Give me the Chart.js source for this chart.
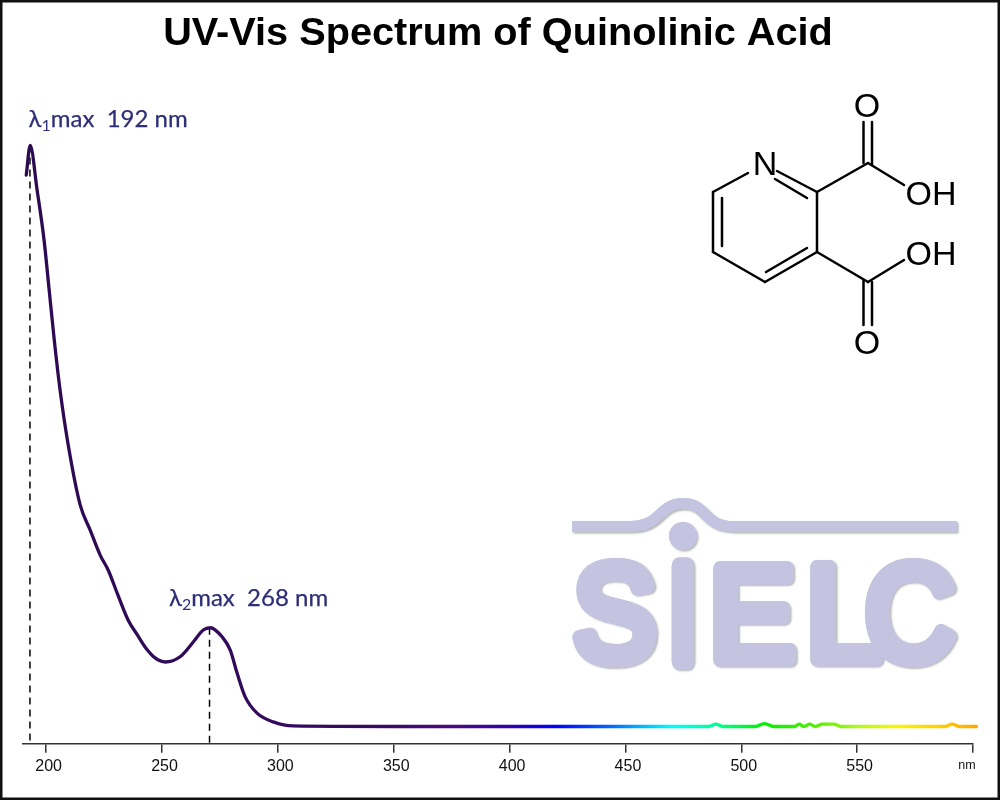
<!DOCTYPE html>
<html>
<head>
<meta charset="utf-8">
<title>UV-Vis Spectrum of Quinolinic Acid</title>
<script src="https://cdn.jsdelivr.net/npm/chart.js@4"></script>
<style>
  html, body { margin: 0; padding: 0; background: #fff; }
  #wrap { width: 1000px; height: 800px; position: relative; overflow: hidden; }
</style>
</head>
<body>
<div id="wrap"><canvas id="chart" width="1000" height="800"></canvas></div>
<script>
const titleText = 'UV-Vis Spectrum of Quinolinic Acid';

// spectrum, value = % of the 192 nm peak
const wavelengths = [191.4, 193.1, 196.1, 199.1, 201.3, 203.5, 206, 209.5, 214.7, 219, 223.3, 226.8, 230.6, 235.4,
  239.3, 243.6, 247, 251.4, 257.8, 263.4, 267.8, 270.8, 276, 279.4, 282.4, 285.9, 291, 298, 306.6,
  350, 400, 450, 486, 489, 492, 506, 510, 514, 523, 525, 527, 529.5, 532, 535, 540, 543, 560, 588, 591, 594, 601.5];
const absorbance = [94.9, 100, 92.3, 83.7, 75.1, 66.5, 57.9, 48.5, 38.1, 33.8, 29.5, 26.9, 23, 18.3,
  15.8, 13.2, 11.8, 11.1, 12, 14.5, 16.6, 17, 15.4, 13.2, 9.2, 5.1, 2.3, 0.8, 0.1,
  0, 0, 0, 0, 0.4, 0, 0, 0.5, 0, 0, 0.4, 0, 0.4, 0, 0.4, 0.4, 0, 0, 0, 0.4, 0, 0];

// line colour along the wavelength axis
const colorNm = [190, 340, 375, 400, 420, 445, 470, 490, 510, 535, 550, 567, 585, 601.5];
const colorHex = ['#2c0a52', '#360a62', '#4a0a80', '#3300b0', '#0000ff', '#0070ff', '#00ffff', '#00ff90',
  '#00f000', '#60f000', '#b0f820', '#f8f800', '#ffd000', '#ffa800'];

// dashed drop lines
const dropNm = [193, 270.5];
const dropTop = [100, 17];

const peakLabels = ['1', '2'];
const peakNames = ['192 nm', '268 nm'];

const xTicks = [200, 250, 300, 350, 400, 450, 500, 550, 600];

const AREA_TOP = 60;
const PX_PER_UNIT = 5.81;
const Y_MIN = -2.96;
const Y_MAX = (726.5 - AREA_TOP) / PX_PER_UNIT;

const spectrum = wavelengths.map((nm, i) => ({ x: nm, y: absorbance[i] }));

function spectrumGradient(context) {
  const chart = context.chart;
  const x = chart.scales.x;
  if (!x) return colorHex[0];
  const from = x.getPixelForValue(colorNm[0]);
  const to = x.getPixelForValue(colorNm[colorNm.length - 1]);
  if (!isFinite(from) || !isFinite(to)) return colorHex[0];
  const g = chart.ctx.createLinearGradient(from, 0, to, 0);
  colorNm.forEach((nm, i) => {
    g.addColorStop((nm - colorNm[0]) / (colorNm[colorNm.length - 1] - colorNm[0]), colorHex[i]);
  });
  return g;
}

// logo letter squeezed into a box, round stroke gives the soft ends
function logoLetter(ctx, ch, left, top, right, bottom, sw) {
  ctx.save();
  ctx.font = '140px "Liberation Sans"';
  ctx.textAlign = 'left';
  ctx.textBaseline = 'alphabetic';
  const m = ctx.measureText(ch);
  const w = m.actualBoundingBoxRight + m.actualBoundingBoxLeft;
  const h = m.actualBoundingBoxAscent + m.actualBoundingBoxDescent;
  const sx = (right - left - sw) / w;
  const sy = (bottom - top - sw) / h;
  ctx.translate(left + sw / 2 + m.actualBoundingBoxLeft * sx, bottom - sw / 2 - m.actualBoundingBoxDescent * sy);
  ctx.scale(sx, sy);
  ctx.lineJoin = 'round';
  ctx.lineWidth = sw / Math.min(sx, sy);
  ctx.strokeStyle = '#c4c4e0';
  ctx.fillStyle = '#c4c4e0';
  ctx.strokeText(ch, 0, 0);
  ctx.fillText(ch, 0, 0);
  ctx.restore();
}

function logoShapes(ctx) {
  ctx.strokeStyle = '#c4c4e0';
  ctx.lineWidth = 11;
  ctx.beginPath();
  ctx.moveTo(572, 526.5);
  ctx.lineTo(630, 526.5);
  ctx.bezierCurveTo(662, 526.5, 658, 503.5, 683, 503.5);
  ctx.bezierCurveTo(708, 503.5, 702, 526.5, 734, 526.5);
  ctx.lineTo(957, 526.5);
  ctx.stroke();
  ctx.fillStyle = '#c4c4e0';
  ctx.beginPath();
  ctx.arc(683, 536, 14, 0, Math.PI * 2);
  ctx.fill();
  logoLetter(ctx, 'S', 572, 558, 657, 667, 13);
  logoLetter(ctx, 'I', 671, 560, 694, 667, 13);
  logoLetter(ctx, 'E', 713, 561, 797, 666, 13);
  logoLetter(ctx, 'L', 810, 560, 884, 666, 13);
  logoLetter(ctx, 'C', 865, 558, 957, 667, 13);
}

function drawLogo(ctx) {
  // shadow pass first, then a clean pass on top so the shadow stays outside
  ctx.save();
  ctx.shadowColor = 'rgba(90,90,90,0.45)';
  ctx.shadowBlur = 2;
  ctx.shadowOffsetX = 1.5;
  ctx.shadowOffsetY = 1.5;
  logoShapes(ctx);
  ctx.restore();
  ctx.save();
  logoShapes(ctx);
  ctx.restore();
}

function drawMolecule(ctx) {
  const bonds = [
    [748, 173, 713, 192], [713, 192, 713, 252], [722, 198, 722, 246], [713, 252, 765, 282],
    [765, 282, 817, 252], [766, 272, 807, 248], [817, 252, 817, 192], [817, 192, 777, 171],
    [807, 198, 775, 179], [817, 192, 868, 163], [868, 163, 904, 185], [863.5, 163, 863.5, 122],
    [872, 165, 872, 122], [817, 252, 868, 282], [868, 282, 904, 260], [863.5, 280, 863.5, 325],
    [872, 282, 872, 325]
  ];
  ctx.save();
  ctx.strokeStyle = '#000';
  ctx.lineWidth = 2.5;
  ctx.lineCap = 'round';
  bonds.forEach(b => {
    ctx.beginPath();
    ctx.moveTo(b[0], b[1]);
    ctx.lineTo(b[2], b[3]);
    ctx.stroke();
  });
  ctx.fillStyle = '#000';
  ctx.font = '34px "Liberation Sans"';
  ctx.textAlign = 'center';
  ctx.textBaseline = 'middle';
  ctx.fillText('N', 765, 166);
  ctx.fillText('O', 867, 108);
  ctx.fillText('O', 867, 345);
  ctx.fillText('OH', 931, 196);
  ctx.fillText('OH', 931, 256);
  ctx.restore();
}

function drawPeakLabel(ctx, sub, name, x, y) {
  ctx.save();
  ctx.fillStyle = '#2e2e78';
  ctx.strokeStyle = '#2e2e78';
  ctx.lineWidth = 0.25;
  ctx.textAlign = 'left';
  ctx.textBaseline = 'alphabetic';
  ctx.font = '24px Lato';
  ctx.fillText('λ', x, y);
  ctx.strokeText('λ', x, y);
  let px = x + ctx.measureText('λ').width;
  ctx.font = '16px Lato';
  ctx.fillText(sub, px, y + 4);
  px += ctx.measureText(sub).width;
  ctx.font = '24px Lato';
  ctx.fillText('max  ' + name, px, y);
  ctx.strokeText('max  ' + name, px, y);
  ctx.restore();
}

const decorations = {
  id: 'decorations',
  beforeDatasetsDraw(chart) {
    drawLogo(chart.ctx);
    drawMolecule(chart.ctx);
  },
  afterDraw(chart) {
    const ctx = chart.ctx;
    const x = chart.scales.x;
    const y = chart.scales.y;
    drawPeakLabel(ctx, peakLabels[0], peakNames[0], x.getPixelForValue(192.4), y.getPixelForValue(100) - 18.5);
    drawPeakLabel(ctx, peakLabels[1], peakNames[1], x.getPixelForValue(253), y.getPixelForValue(17) - 22);

    ctx.save();
    ctx.fillStyle = '#111';
    ctx.font = '12.5px "Liberation Sans"';
    ctx.textAlign = 'center';
    ctx.textBaseline = 'middle';
    ctx.fillText('nm', x.getPixelForValue(600) - 6, 766);
    // picture frame
    ctx.strokeStyle = '#111';
    ctx.lineWidth = 3;
    ctx.strokeRect(1, 1, 998, 798);
    ctx.restore();
  }
};

new Chart(document.getElementById('chart'), {
  type: 'line',
  data: {
    datasets: [
      {
        label: 'Spectrum',
        data: spectrum,
        borderColor: spectrumGradient,
        borderWidth: 3.3,
        cubicInterpolationMode: 'monotone',
        borderCapStyle: 'round',
        borderJoinStyle: 'round',
        pointRadius: 0,
        clip: false,
        order: 1
      },
      {
        label: 'Peak 1',
        data: [{ x: dropNm[0], y: dropTop[0] }, { x: dropNm[0], y: Y_MIN }],
        borderColor: '#000',
        borderWidth: 1.5,
        borderDash: [7, 5],
        pointRadius: 0,
        order: 2
      },
      {
        label: 'Peak 2',
        data: [{ x: dropNm[1], y: dropTop[1] }, { x: dropNm[1], y: Y_MIN }],
        borderColor: '#000',
        borderWidth: 1.5,
        borderDash: [7, 5],
        pointRadius: 0,
        order: 2
      }
    ]
  },
  options: {
    responsive: false,
    animation: false,
    layout: { padding: { left: 23, right: 27, top: 0, bottom: 0 } },
    plugins: {
      legend: { display: false },
      tooltip: { enabled: false },
      title: {
        display: true,
        text: titleText,
        color: '#000',
        font: { family: '"Liberation Sans"', size: 39.7, weight: 'bold', lineHeight: 1.2 },
        padding: { top: 10.2, bottom: 2.16 }
      }
    },
    scales: {
      x: {
        type: 'linear',
        min: 190,
        max: 600,
        afterFit: (scale) => { scale.height = 56.3; },
        afterBuildTicks: (scale) => { scale.ticks = xTicks.map(v => ({ value: v })); },
        border: { display: true, color: '#333', width: 1.5 },
        grid: { drawOnChartArea: false, drawTicks: true, tickLength: 9, color: '#333', lineWidth: 1.5 },
        ticks: {
          color: '#111',
          padding: 4,
          labelOffset: 2.5,
          maxRotation: 0,
          autoSkip: false,
          font: { family: '"Liberation Sans"', size: 16 },
          callback: (v) => (v === 600 ? '' : String(v))
        }
      },
      y: {
        display: false,
        min: Y_MIN,
        max: Y_MAX
      }
    }
  },
  plugins: [decorations]
});
</script>
</body>
</html>
